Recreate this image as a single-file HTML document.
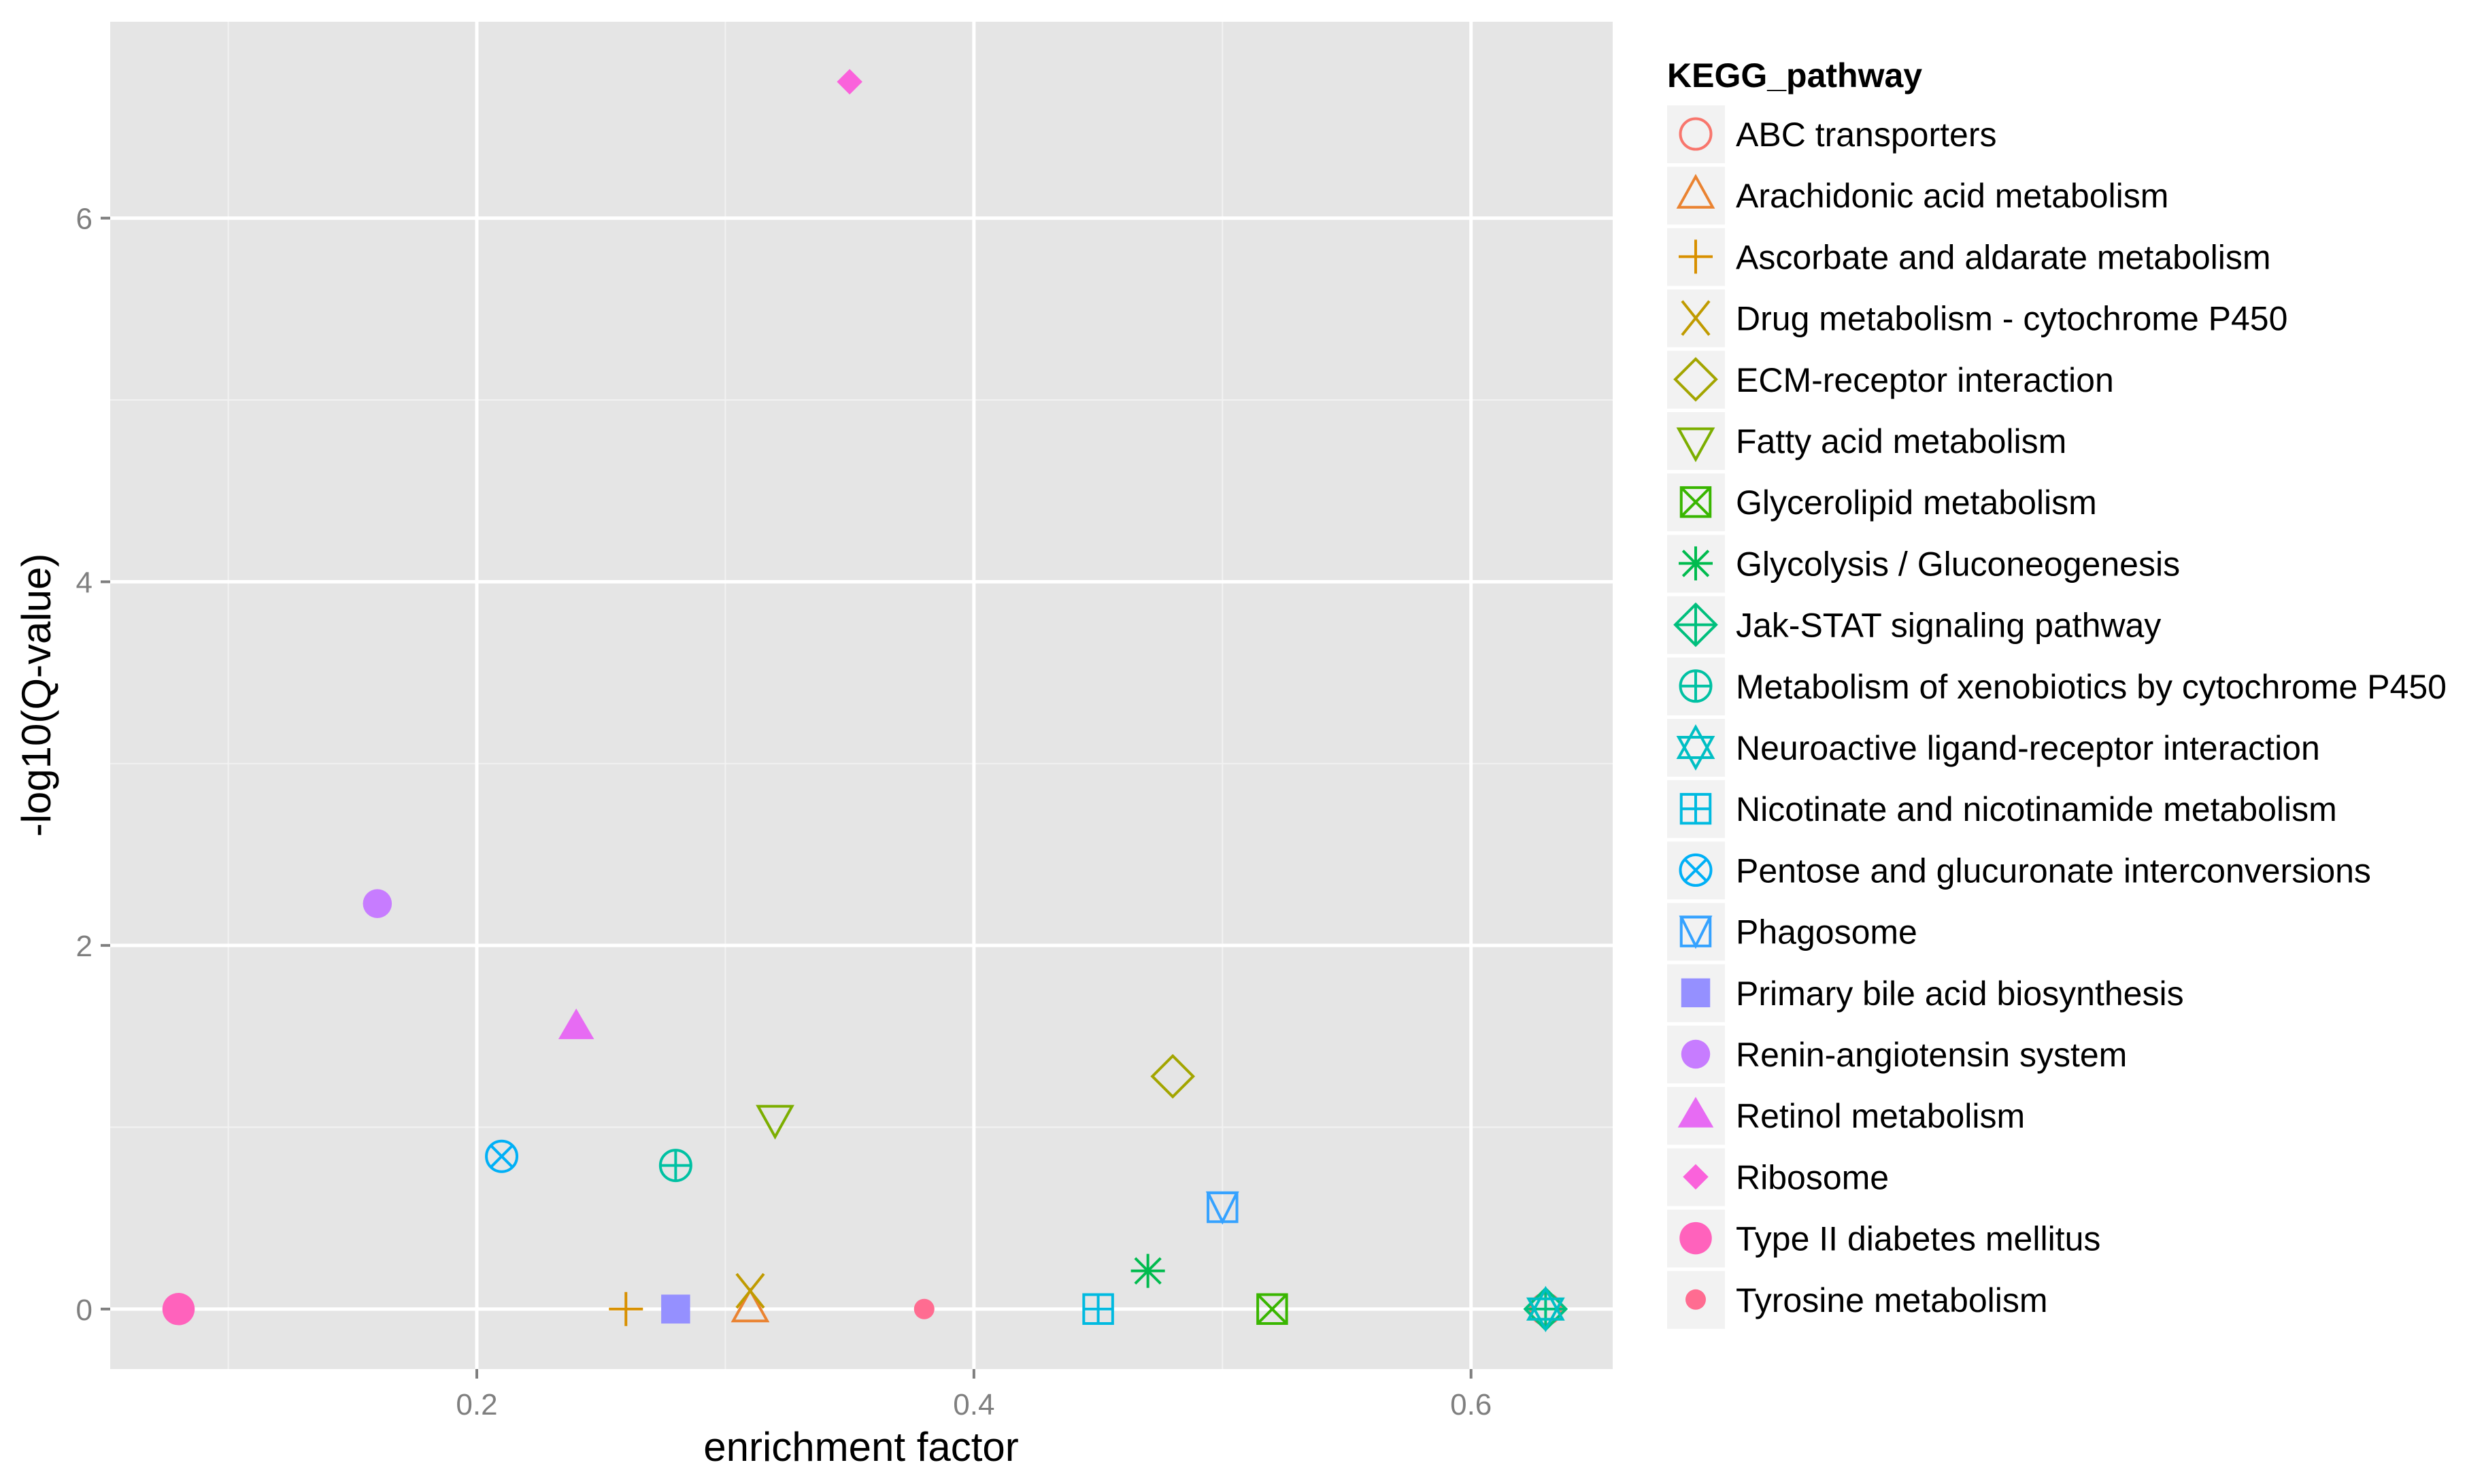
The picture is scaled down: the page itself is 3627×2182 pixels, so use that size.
<!DOCTYPE html>
<html><head><meta charset="utf-8"><style>
html,body{margin:0;padding:0;background:#fff;}
svg{display:block;font-family:"Liberation Sans",sans-serif;}
</style></head><body>
<svg id="chart" width="3627" height="2182" viewBox="0 0 3627 2182" xmlns="http://www.w3.org/2000/svg">
<rect x="162" y="32" width="2209" height="1981" fill="#e5e5e5"/>
<g id="grid"></g>
<g id="ticks"></g>
<g id="points"></g>
<text x="1266" y="2148" font-size="60" text-anchor="middle" fill="#000">enrichment factor</text>
<text transform="translate(74,1022) rotate(-90)" font-size="60" text-anchor="middle" fill="#000">-log10(Q-value)</text>
<text x="2451" y="128" font-size="50" font-weight="bold" fill="#000">KEGG_pathway</text>
<g id="legend"></g>
</svg>
<script>
const pathways = ["ABC transporters","Arachidonic acid metabolism","Ascorbate and aldarate metabolism","Drug metabolism - cytochrome P450","ECM-receptor interaction","Fatty acid metabolism","Glycerolipid metabolism","Glycolysis / Gluconeogenesis","Jak-STAT signaling pathway","Metabolism of xenobiotics by cytochrome P450","Neuroactive ligand-receptor interaction","Nicotinate and nicotinamide metabolism","Pentose and glucuronate interconversions","Phagosome","Primary bile acid biosynthesis","Renin-angiotensin system","Retinol metabolism","Ribosome","Type II diabetes mellitus","Tyrosine metabolism"];
const enrichment = [0.63,0.31,0.26,0.31,0.48,0.32,0.52,0.47,0.63,0.28,0.63,0.45,0.21,0.50,0.28,0.16,0.24,0.35,0.08,0.38];
const qvalue = [0,0,0,0.1,1.28,1.05,0,0.21,0,0.79,0,0,0.84,0.56,0,2.23,1.55,6.75,0,0];
const colors = ["#F8766D","#EA8331","#D89000","#C09B00","#A3A500","#7CAE00","#39B600","#00BB4E","#00BF7D","#00C1A3","#00BFC4","#00BAE0","#00B0F6","#35A2FF","#9590FF","#C77CFF","#E76BF3","#FA62DB","#FF62BC","#FF6C91"];
const xTicks = [0.2,0.4,0.6];
const yTicks = [0,2,4,6];

const NS="http://www.w3.org/2000/svg";
const X0=162,X1=2371,Y0=32,Y1=2013;
const xMin=0.0525,xMax=0.657,yMin=-0.33,yMax=7.08;
function sx(v){return X0+(v-xMin)/(xMax-xMin)*(X1-X0);}
function sy(v){return Y1-(v-yMin)/(yMax-yMin)*(Y1-Y0);}
function mk(tag,attrs,parent){const e=document.createElementNS(NS,tag);for(const k in attrs)e.setAttribute(k,attrs[k]);parent.appendChild(e);return e;}

const grid=document.getElementById('grid');
[0.1,0.3,0.5].forEach(v=>{const l=mk('line',{x1:sx(v),x2:sx(v),y1:Y0,y2:Y1,stroke:'#f2f2f2','stroke-width':2},grid);

});
[1,3,5].forEach(v=>{const l=mk('line',{y1:sy(v),y2:sy(v),x1:X0,x2:X1,stroke:'#f2f2f2','stroke-width':2},grid);

});
const tk=document.getElementById('ticks');
xTicks.forEach(v=>{const l=mk('line',{x1:sx(v),x2:sx(v),y1:Y0,y2:Y1,stroke:'#fff','stroke-width':5},grid);


const t=mk('line',{x1:sx(v),x2:sx(v),y1:Y1,y2:Y1+14,stroke:'#7f7f7f','stroke-width':4},tk);


const tx=mk('text',{x:sx(v),y:Y1+67,'font-size':44,'text-anchor':'middle',fill:'#7f7f7f'},tk);tx.textContent=String(v);

});
yTicks.forEach(v=>{const l=mk('line',{y1:sy(v),y2:sy(v),x1:X0,x2:X1,stroke:'#fff','stroke-width':5},grid);


const t=mk('line',{x1:X0-14,x2:X0,y1:sy(v),y2:sy(v),stroke:'#7f7f7f','stroke-width':4},tk);


const tx=mk('text',{x:X0-26,y:sy(v)+16,'font-size':44,'text-anchor':'end',fill:'#7f7f7f'},tk);tx.textContent=String(v);

});

function shape(g,i,cx,cy,c){
  const r=25,sw=4,o={fill:'none',stroke:c,'stroke-width':sw};
  const L=(x1,y1,x2,y2)=>mk('line',{x1:cx+x1,y1:cy+y1,x2:cx+x2,y2:cy+y2,stroke:c,'stroke-width':sw},g);
  const P=(pts,a)=>mk('polygon',Object.assign({points:pts.map(p=>(cx+p[0])+','+(cy+p[1])).join(' ')},a),g);
  const sq=()=>mk('rect',Object.assign({x:cx-r*0.85,y:cy-r*0.85,width:r*1.7,height:r*1.7},o),g);
  switch(i){
    case 0: mk('circle',Object.assign({cx,cy,r:r*0.9},o),g);break;
    case 1: P([[0,-r*1.1],[r,r*0.7],[-r,r*0.7]],o);break;
    case 2: L(-r,0,r,0);L(0,-r,0,r);break;
    case 3: L(-r*0.8,-r,r*0.8,r);L(-r*0.8,r,r*0.8,-r);break;
    case 4: P([[0,-r*1.2],[r*1.2,0],[0,r*1.2],[-r*1.2,0]],o);break;
    case 5: P([[0,r*1.1],[r,-r*0.7],[-r,-r*0.7]],o);break;
    case 6: sq();L(-r*0.85,-r*0.85,r*0.85,r*0.85);L(-r*0.85,r*0.85,r*0.85,-r*0.85);break;
    case 7: L(-r,0,r,0);L(0,-r,0,r);L(-r*0.75,-r*0.75,r*0.75,r*0.75);L(-r*0.75,r*0.75,r*0.75,-r*0.75);break;
    case 8: P([[0,-r*1.2],[r*1.2,0],[0,r*1.2],[-r*1.2,0]],o);L(-r*1.2,0,r*1.2,0);L(0,-r*1.2,0,r*1.2);break;
    case 9: mk('circle',Object.assign({cx,cy,r:r*0.9},o),g);L(-r*0.9,0,r*0.9,0);L(0,-r*0.9,0,r*0.9);break;
    case 10: P([[0,-r*1.2],[r,r*0.6],[-r,r*0.6]],o);P([[0,r*1.2],[r,-r*0.6],[-r,-r*0.6]],o);break;
    case 11: sq();L(-r*0.85,0,r*0.85,0);L(0,-r*0.85,0,r*0.85);break;
    case 12: mk('circle',Object.assign({cx,cy,r:r*0.9},o),g);L(-r*0.64,-r*0.64,r*0.64,r*0.64);L(-r*0.64,r*0.64,r*0.64,-r*0.64);break;
    case 13: sq();P([[-r*0.85,-r*0.85],[r*0.85,-r*0.85],[0,r*0.85]],o);break;
    case 14: mk('rect',{x:cx-r*0.85,y:cy-r*0.85,width:1.7*r,height:1.7*r,fill:c},g);break;
    case 15: mk('circle',{cx,cy,r:r*0.85,fill:c},g);break;
    case 16: P([[0,-r*1.1],[r*1.05,r*0.7],[-r*1.05,r*0.7]],{fill:c});break;
    case 17: P([[0,-r*0.75],[r*0.75,0],[0,r*0.75],[-r*0.75,0]],{fill:c});break;
    case 18: mk('circle',{cx,cy,r:r*0.95,fill:c},g);break;
    case 19: mk('circle',{cx,cy,r:r*0.6,fill:c},g);break;
  }
}
const pg=document.getElementById('points');
pathways.forEach((p,i)=>{const g=mk('g',{},pg);


shape(g,i,sx(enrichment[i]),sy(qvalue[i]),colors[i]);});
const lg=document.getElementById('legend');
pathways.forEach((p,i)=>{const cy=197+i*90.2;const g=mk('g',{},lg);


mk('rect',{x:2451,y:cy-42,width:85,height:85,fill:'#f2f2f2'},g);
shape(g,i,2493,cy,colors[i]);
const t=mk('text',{x:2552,y:cy+18,'font-size':50,fill:'#000'},g);t.textContent=p;});
</script>
</body></html>
